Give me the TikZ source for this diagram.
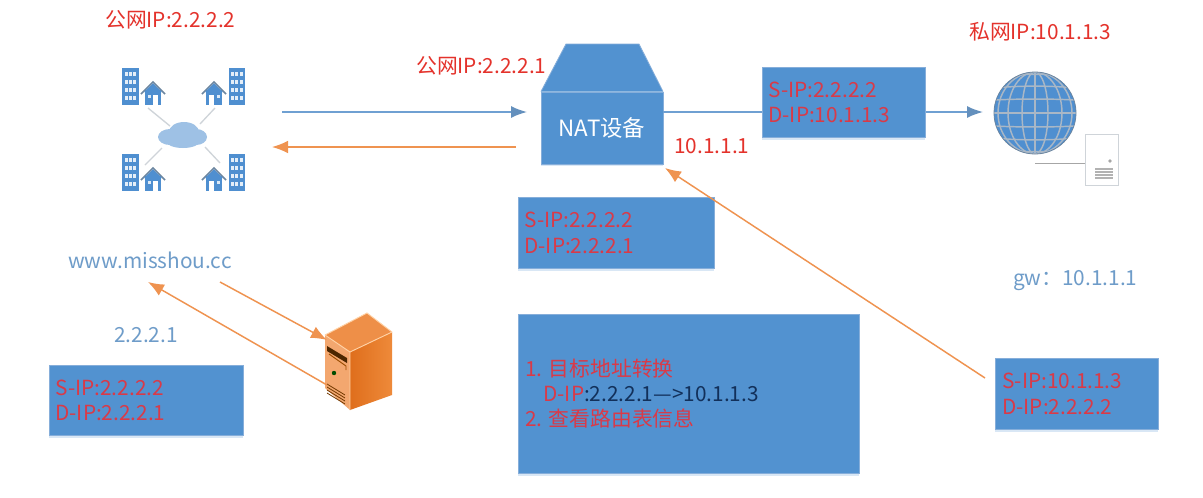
\documentclass[tikz,border=0pt]{standalone}
\usepackage{fontspec}
\setmainfont{Noto Sans CJK SC}
\usetikzlibrary{arrows.meta}
\definecolor{boxblue}{HTML}{5292D0}
\definecolor{boxedge}{HTML}{86AEDA}
\definecolor{iconblue}{HTML}{4F8FD0}
\definecolor{lineblue}{HTML}{6FA0D2}
\definecolor{textblue}{HTML}{6E9CC9}
\definecolor{lineorange}{HTML}{EF9350}
\definecolor{labelred}{HTML}{E4322B}
\definecolor{boxred}{HTML}{D93A48}
\definecolor{darknavy}{HTML}{12305A}
\definecolor{soft}{HTML}{CFD4D9}
\definecolor{gridgrey}{HTML}{A9B7C6}
\definecolor{srvtop}{HTML}{EE8F48}
\definecolor{srvfront}{HTML}{F3A76F}
\definecolor{srvdark}{HTML}{DF6E1C}
\definecolor{srvmid}{HTML}{EE8A3A}
\tikzset{
  x=0.75pt,y=-0.75pt,
  softshadow/.style={preaction={fill=boxblue!22,transform canvas={yshift=-1.6pt}}},
  ipbox/.style={softshadow,fill=boxblue,draw=boxedge,line width=0.6pt,inner sep=0pt,anchor=north west,
    align=left,text=boxred,font=\fontsize{15.6}{18.8}\selectfont},
  toplabel/.style={anchor=base west,inner sep=0pt,text=labelred,font=\fontsize{15.6}{18}\selectfont},
  bluelabel/.style={anchor=base west,inner sep=0pt,text=textblue,font=\fontsize{15.6}{18}\selectfont},
  bluearrow/.style={draw=lineblue,line width=1.2pt,-{Latex[length=12pt,width=9pt,color=lineblue!90!black]}},
  orangearrow/.style={draw=lineorange,line width=1.1pt,-{Latex[length=12pt,width=9.5pt,color=lineorange]}},
  softline/.style={draw=soft,line width=1pt},
  cityicon/.pic={
    \fill[iconblue] (0,0) rectangle (16.5,37);
    \foreach \r in {0,1,2,3}{\foreach \c in {0,1,2}{
      \fill[white!85!iconblue] (2.5+\c*4.2,4+\r*8) rectangle ++(3,4);}}
    \fill[iconblue] (23,22) rectangle (39,37);
    \draw[gray!60!iconblue,line width=1.1pt] (19,26) -- (31,14) -- (43,26);
    \fill[iconblue] (31,15.5) -- (40,24) -- (22,24) -- cycle;
    \fill[white] (31,27) rectangle (36,37);
    \fill[white!80!iconblue] (25.5,27) rectangle (28.5,30);
  }
}
\begin{document}
\begin{tikzpicture}
\useasboundingbox (0,0) rectangle (1203,497);
\fill[white] (0,0) rectangle (1203,497);

% internet + buildings icon
\coordinate (ca) at (148,108); \coordinate (cb) at (170,126);
\coordinate (cc) at (215,108); \coordinate (cd) at (200,124);
\coordinate (ce) at (162,148); \coordinate (cf) at (145,165);
\coordinate (cg) at (205,147); \coordinate (ch) at (220,163);
\draw[softline] (ca) -- (cb);
\draw[softline] (cc) -- (cd);
\draw[softline] (ce) -- (cf);
\draw[softline] (cg) -- (ch);
\pic at (122,68) {cityicon};
\pic[xscale=-1] at (245,68) {cityicon};
\pic at (122,154) {cityicon};
\pic[xscale=-1] at (245,154) {cityicon};
\fill[iconblue!55!white] (170,137) ellipse (12 and 8);
\fill[iconblue!55!white] (184,132) ellipse (15 and 10);
\fill[iconblue!55!white] (196,137) ellipse (11 and 8);
\fill[iconblue!55!white] (183,141) ellipse (17 and 7);

% NAT device
\node[softshadow,fill=boxblue,draw=boxedge,line width=0.6pt,minimum width=91.5pt,minimum height=54pt,inner sep=0pt,
      text=white,font=\fontsize{16.8}{18}\selectfont] (nat) at (602,128) {NAT设备};
\fill[boxblue] (566,44) -- (639,44) -- (663,91.5) -- (541,91.5) -- cycle;
\draw[boxedge,line width=0.6pt] (541,91.5) -- (566,44) -- (639,44) -- (663,91.5);

% globe and document
\coordinate (globecentre) at (1035,113);
\coordinate (docline) at (1035,163);
\node[draw=soft,fill=white,line width=0.7pt,minimum width=24.75pt,minimum height=38.25pt,inner sep=0pt,anchor=north west] (doc) at (1085,134) {};
\draw[draw=gray!70,line width=0.7pt] (docline) -- (doc.west |- docline);
\fill[gray!70] (1110,161) circle (1.8);
\foreach \yy in {169,172,175,178}{\draw[gray!60,line width=0.8pt] (1095,\yy) -- (1113,\yy);}
\fill[iconblue] (globecentre) circle (41);
\begin{scope}
  \clip (globecentre) circle (41);
  \draw[gridgrey,line width=1.1pt] (1035,72) -- (1035,154);
  \foreach \rx in {13,27,37}{\draw[gridgrey,line width=1.1pt] (globecentre) ellipse (\rx*1.0 and 41);}
  \foreach \dy in {-36,-25,-13,0,13,25,36}{
    \draw[gridgrey,line width=1.1pt] (994,113+\dy) .. controls (1020,113+1.1*\dy) and (1050,113+1.1*\dy) .. (1076,113+\dy);}
\end{scope}
\draw[gray!60!iconblue,line width=0.6pt] (globecentre) circle (41);

% server
\fill[srvfront] (325,335) -- (350,352) -- (350,410) -- (325,388) -- cycle;
\shade[left color=srvdark,right color=srvmid] (350,352) -- (392,332) -- (392,395) -- (350,410) -- cycle;
\fill[srvtop] (325,335) -- (367,313) -- (392,332) -- (350,352) -- cycle;
\draw[white!65!orange,line width=0.7pt] (325,335) -- (350,352) -- (392,332) (350,352) -- (350,410) (325,335) -- (367,313) -- (392,332);
\fill[black!70!orange] (327,346) -- (347,358) -- (347,363) -- (327,351) -- cycle;
\draw[black!40!orange,line width=0.7pt] (329,354) -- (346,366) -- (346,370);
\fill[black!70!green] (334,373) circle (2.2);
\foreach \dy in {0,3,6,9}{\draw[black!55!orange,line width=0.6pt] (327,384+\dy) -- (345,395+\dy);}

% arrows behind boxes
\coordinate (natout) at (nat.east |- 0,112);
\coordinate (globein) at (983,112);
\draw[bluearrow] (natout) -- (globein);

% boxes
\node[ipbox,minimum width=122.25pt,minimum height=52.5pt] (boxa) at (762,67) {\begin{minipage}{113.25pt}S-IP:2.2.2.2\\D-IP:10.1.1.3\end{minipage}};
\node[ipbox,minimum width=147pt,minimum height=53.25pt] (boxb) at (518,197) {\begin{minipage}{138pt}S-IP:2.2.2.2\\D-IP:2.2.2.1\end{minipage}};
\node[ipbox,minimum width=255.75pt,minimum height=119.25pt] (boxc) at (518,314) {\begin{minipage}{245.25pt}1. 目标地址转换\\\hspace*{13.5pt}D-IP{\color{darknavy}:2.2.2.1—>10.1.1.3}\\2. 查看路由表信息\end{minipage}};
\node[ipbox,minimum width=145.5pt,minimum height=52.5pt] (boxd) at (49,365) {\begin{minipage}{136.5pt}S-IP:2.2.2.2\\D-IP:2.2.2.1\end{minipage}};
\node[ipbox,minimum width=122.25pt,minimum height=53.25pt] (boxe) at (995,358) {\begin{minipage}{112pt}S-IP:10.1.1.3\\D-IP:2.2.2.2\end{minipage}};

% labels
\node[toplabel] (la) at (105,27) {公网IP:2.2.2.2};
\node[toplabel] (lb) at (416,73) {公网IP:2.2.2.1};
\node[toplabel] (lc) at (674,153) {10.1.1.1};
\node[toplabel] (ld) at (969,39) {私网IP:10.1.1.3};
\node[bluelabel] (le) at (68,268) {www.misshou.cc};
\node[bluelabel] (lf) at (114,342) {2.2.2.1};
\node[bluelabel] (lg) at (1013,285) {gw：10.1.1.1};

% remaining arrows
\coordinate (wa) at (282,112); \coordinate (wb) at (527,112);
\coordinate (wc) at (516,147); \coordinate (wd) at (272,147);
\draw[bluearrow] (wa) -- (wb);
\draw[orangearrow] (wc) -- (wd);
\coordinate (ra) at (985,378); \coordinate (rb) at (665,168);
\draw[orangearrow] (ra) -- (rb);
\coordinate (sa) at (220,282); \coordinate (sb) at (327,340);
\draw[orangearrow] (sa) -- (sb);
\coordinate (sc) at (327,385); \coordinate (sd) at (148,282);
\draw[orangearrow] (sc) -- (sd);
\end{tikzpicture}
\end{document}
